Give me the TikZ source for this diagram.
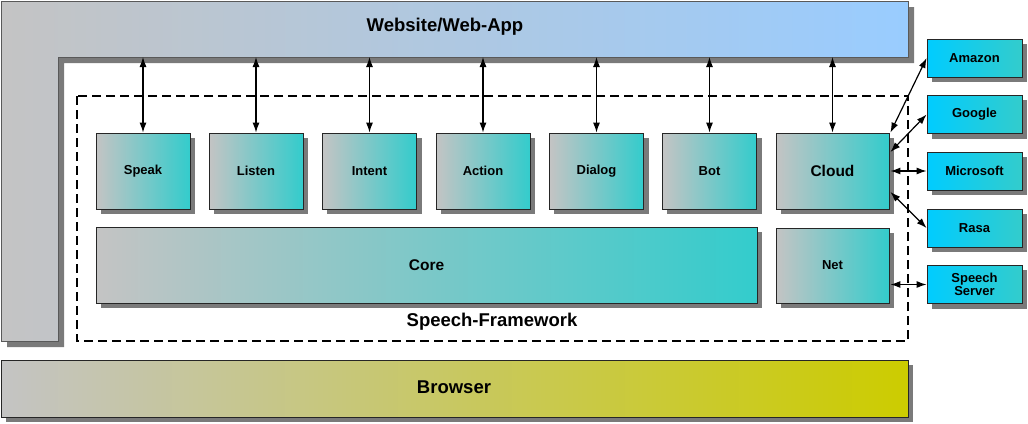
\documentclass[tikz,border=0pt]{standalone}
\usepackage{fontspec}
\setmainfont{Liberation Sans}
\usetikzlibrary{arrows.meta,backgrounds}
\definecolor{lgray}{HTML}{C4C4C4}
\definecolor{wblue}{HTML}{99CCFF}
\definecolor{teal1}{HTML}{33CCCC}
\definecolor{cyan1}{HTML}{00CCFF}
\definecolor{olive1}{HTML}{CCCC00}
\definecolor{shadowgray}{HTML}{7A7A7A}
\tikzset{
  fwbox/.style={draw=black!85,line width=0.8pt,left color=lgray,right color=teal1,
     rectangle,inner sep=0pt,font=\bfseries\fontsize{13}{15}\selectfont,align=center},
  svcbox/.style={draw=black!85,line width=0.8pt,left color=cyan1,right color=teal1,
     rectangle,inner sep=0pt,minimum width=95pt,minimum height=38pt,
     font=\bfseries\fontsize{13}{15}\selectfont,align=center},
  arr/.style={{Latex[length=10pt,width=7pt]}-{Latex[length=10pt,width=7pt]},line width=1.2pt,black},
  title/.style={font=\bfseries\fontsize{18.5}{20}\selectfont,inner sep=0pt}
}
\begin{document}
\begin{tikzpicture}[x=1pt,y=-1pt]
\useasboundingbox (0,0) rectangle (1028,423);
% Website / Web-App L-shape (shadow first)
\fill[shadowgray] (7,7) -- (914,7) -- (914,63) -- (64,63) -- (64,347) -- (7,347) -- cycle;
\path[draw=black!65,line width=0.8pt,left color=lgray,right color=wblue]
  (1,1) -- (908,1) -- (908,57) -- (58,57) -- (58,341) -- (1,341) -- cycle;
\node[title] (webtxt) at (445,27) {Website/Web-App};
\coordinate (webbottom) at (480,57);
% Browser
\node[draw=black!85,line width=0.8pt,left color=lgray,right color=olive1,
  minimum width=907pt,minimum height=57pt,inner sep=0pt] (browser) at (454.5,388.5) {};
\node[title] (browsertxt) at (454,387) {Browser};
% Speech framework dashed frame
\draw[dash pattern=on 9pt off 5pt,line width=1.1pt] (77,96) rectangle (908,341);
\node[title] (fwtxt) at (492,322) {Speech-Framework};
% Modules
\node[fwbox,minimum width=94pt,minimum height=76pt] (speak)  at (143,171) {Speak};
\node[fwbox,minimum width=94pt,minimum height=76pt] (listen) at (256,171) {Listen};
\node[fwbox,minimum width=94pt,minimum height=76pt] (intent) at (369.5,171) {Intent};
\node[fwbox,minimum width=94pt,minimum height=76pt] (action) at (483,171) {Action};
\node[fwbox,minimum width=94pt,minimum height=76pt] (dialog) at (596.5,171) {Dialog};
\node[fwbox,minimum width=94pt,minimum height=76pt] (bot)    at (709.5,171) {Bot};
\node[fwbox,minimum width=113pt,minimum height=76pt,font=\bfseries\fontsize{15.5}{17}\selectfont] (cloud) at (832.5,171) {Cloud};
\node[fwbox,minimum width=661pt,minimum height=76pt,font=\bfseries\fontsize{15.5}{17}\selectfont] (core) at (426.5,265) {Core};
\node[fwbox,minimum width=113pt,minimum height=75pt] (net) at (832.5,265.5) {Net};
% Services
\node[svcbox] (amazon)    at (974.5,58)    {Amazon};
\node[svcbox] (google)    at (974.5,114.5) {Google};
\node[svcbox] (microsoft) at (974.5,171)   {Microsoft};
\node[svcbox] (rasa)      at (974.5,228)   {Rasa};
\node[svcbox] (speechsrv) at (974.5,284.5) {Speech\\[-2pt]Server};
% Shadows behind boxes
\begin{scope}[on background layer]
  \foreach \n in {browser,speak,listen,intent,action,dialog,bot,cloud,core,net,amazon,google,microsoft,rasa,speechsrv}
    \fill[shadowgray] ([shift={(5,5)}]\n.north west) rectangle ([shift={(5,5)}]\n.south east);
\end{scope}
% Arrows to website
\foreach \n in {speak,listen,intent,action,dialog,bot,cloud}
  \draw[arr] (\n.north |- webbottom) -- (\n.north);
% Arrows cloud to services
\draw[arr] ([xshift=1pt]cloud.north east) -- (amazon.west);
\draw[arr] ([xshift=1pt,yshift=19pt]cloud.east) -- (google.west);
\draw[arr] ([xshift=1pt]cloud.east) -- (microsoft.west);
\draw[arr] ([xshift=1pt,yshift=-21pt]cloud.east) -- (rasa.west);
\draw[arr] ([xshift=1pt]net.east |- speechsrv.west) -- (speechsrv.west);
\end{tikzpicture}
\end{document}
